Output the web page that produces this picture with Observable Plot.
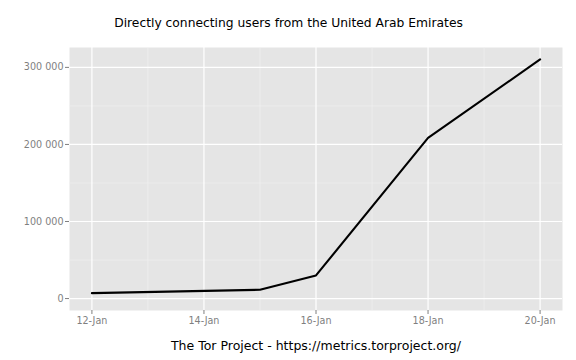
<!DOCTYPE html>
<html>
<head>
<meta charset="utf-8">
<script src="https://cdn.jsdelivr.net/npm/d3@7"></script>
<script src="https://cdn.jsdelivr.net/npm/@observablehq/plot@0.6"></script>
<style>
  html, body { margin: 0; padding: 0; background: #fff; }
  svg { font-family: "DejaVu Sans", sans-serif; }
</style>
</head>
<body>
<div id="chart"></div>
<script>
// Data
const dates = ["2014-01-12", "2014-01-15", "2014-01-16", "2014-01-18", "2014-01-20"];
const users = [7000, 11400, 30000, 208500, 310300];
const xTickDates = ["2014-01-12", "2014-01-14", "2014-01-16", "2014-01-18", "2014-01-20"];
const xMinorDates = ["2014-01-13", "2014-01-15", "2014-01-17", "2014-01-19"];
const yTicks = [0, 100000, 200000, 300000];
const yMinor = [50000, 150000, 250000];
const titleText = "Directly connecting users from the United Arab Emirates";
const captionText = "The Tor Project - https://metrics.torproject.org/";

const W = 576, mL = 69, mR = 14;
const parse = d3.utcParse("%Y-%m-%d");
const data = dates.map((d, i) => ({date: parse(d), users: users[i]}));
const xt = xTickDates.map(parse);
const xm = xMinorDates.map(parse);
const day = 864e5;
const xDomain = [new Date(+parse(dates[0]) - 0.4 * day), new Date(+parse(dates[dates.length - 1]) + 0.4 * day)];
const fmtY = d3.formatLocale({thousands: " ", grouping: [3], decimal: "."}).format(",");
const fmtX = d3.utcFormat("%d-%b");
const titleDx = W / 2 - (mL + (W - mL - mR) / 2);

const chart = Plot.plot({
  width: W,
  height: 360,
  marginLeft: mL,
  marginRight: mR,
  marginTop: 47,
  marginBottom: 50,
  style: {fontFamily: "DejaVu Sans, sans-serif", background: "#fff"},
  x: {type: "utc", domain: xDomain},
  y: {domain: [-15500, 325800]},
  marks: [
    Plot.frame({fill: "#E5E5E5", stroke: null}),
    Plot.ruleX(xm, {stroke: "#F2F2F2", strokeWidth: 0.6}),
    Plot.ruleY(yMinor, {stroke: "#F2F2F2", strokeWidth: 0.6}),
    Plot.ruleX(xt, {stroke: "#FFFFFF", strokeWidth: 1.2}),
    Plot.ruleY(yTicks, {stroke: "#FFFFFF", strokeWidth: 1.2}),
    Plot.axisX({ticks: xt, tickFormat: fmtX, tickSize: 4, tickPadding: 3, stroke: "#7F7F7F", fill: "#7F7F7F", fontSize: 9.6, label: null}),
    Plot.axisY({ticks: yTicks, tickFormat: fmtY, tickSize: 4, tickPadding: 2, stroke: "#7F7F7F", fill: "#7F7F7F", fontSize: 9.6, label: null}),
    Plot.line(data, {x: "date", y: "users", stroke: "#000", strokeWidth: 2.1}),
    Plot.text([titleText], {frameAnchor: "top", dy: -24, dx: titleDx, text: d => d, fontSize: 12.3, fill: "#000", lineAnchor: "middle"}),
    Plot.text([captionText], {frameAnchor: "bottom", dy: 35, text: d => d, fontSize: 12.5, fill: "#000", lineAnchor: "middle"})
  ]
});
document.getElementById("chart").appendChild(chart);
</script>
</body>
</html>
